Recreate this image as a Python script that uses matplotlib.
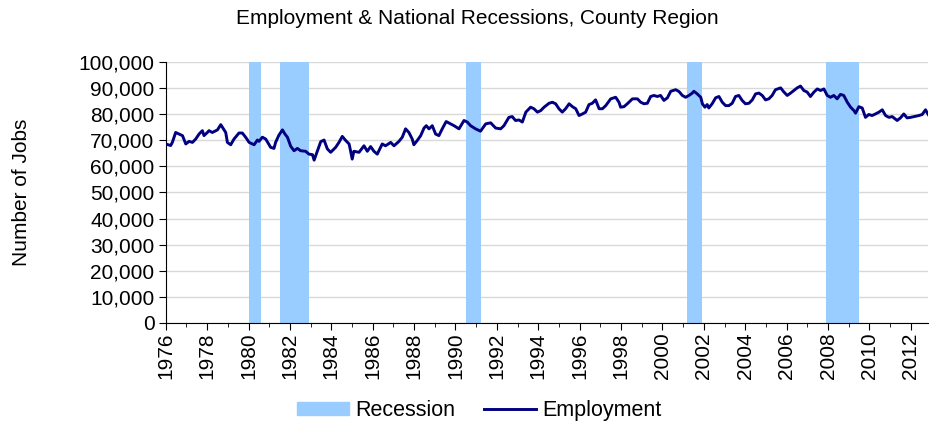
import numpy as np
import matplotlib.pyplot as plt
from matplotlib.patches import Patch
from matplotlib.lines import Line2D
from matplotlib.ticker import FuncFormatter, MultipleLocator

plt.rcParams['font.family'] = ['Liberation Sans', 'DejaVu Sans']

# Employment (decimal year, thousands of jobs)
years = [
    1976.00, 1976.24, 1976.32, 1976.48, 1976.64, 1976.81, 1976.97, 1977.13, 1977.29, 1977.45,
    1977.61, 1977.77, 1977.85, 1978.01, 1978.09, 1978.25, 1978.50, 1978.66, 1978.74, 1978.90,
    1978.98, 1979.14, 1979.30, 1979.54, 1979.70, 1979.86, 1980.03, 1980.27, 1980.43, 1980.51,
    1980.67, 1980.83, 1981.07, 1981.23, 1981.31, 1981.47, 1981.64, 1981.76, 1981.88, 1982.04,
    1982.20, 1982.36, 1982.52, 1982.76, 1982.92, 1983.09, 1983.17, 1983.33, 1983.49, 1983.65,
    1983.81, 1983.97, 1984.21, 1984.37, 1984.53, 1984.70, 1984.86, 1984.93, 1985.01, 1985.09,
    1985.34, 1985.58, 1985.74, 1985.90, 1986.06, 1986.22, 1986.46, 1986.62, 1986.87, 1987.03,
    1987.27, 1987.43, 1987.59, 1987.75, 1987.91, 1987.99, 1988.15, 1988.32, 1988.48, 1988.59,
    1988.72, 1988.88, 1989.04, 1989.20, 1989.36, 1989.55, 1989.76, 1989.93, 1990.17, 1990.41,
    1990.57, 1990.73, 1990.97, 1991.21, 1991.46, 1991.70, 1991.94, 1992.18, 1992.34, 1992.58,
    1992.74, 1992.90, 1993.07, 1993.23, 1993.40, 1993.63, 1993.79, 1993.96, 1994.12, 1994.28,
    1994.52, 1994.68, 1994.84, 1995.00, 1995.16, 1995.32, 1995.49, 1995.65, 1995.81, 1995.97,
    1996.13, 1996.29, 1996.45, 1996.61, 1996.77, 1996.94, 1997.10, 1997.26, 1997.50, 1997.74,
    1997.90, 1997.98, 1998.14, 1998.30, 1998.55, 1998.79, 1998.95, 1999.11, 1999.27, 1999.43,
    1999.59, 1999.75, 1999.91, 2000.07, 2000.24, 2000.40, 2000.64, 2000.80, 2000.96, 2001.12,
    2001.28, 2001.44, 2001.52, 2001.68, 2001.85, 2001.93, 2002.05, 2002.16, 2002.24, 2002.40,
    2002.57, 2002.73, 2002.89, 2003.05, 2003.21, 2003.37, 2003.53, 2003.69, 2003.85, 2004.01,
    2004.18, 2004.34, 2004.50, 2004.66, 2004.82, 2004.98, 2005.14, 2005.30, 2005.46, 2005.71,
    2005.87, 2006.03, 2006.19, 2006.35, 2006.51, 2006.67, 2006.83, 2006.99, 2007.15, 2007.32,
    2007.48, 2007.64, 2007.80, 2007.96, 2008.12, 2008.28, 2008.44, 2008.60, 2008.76, 2008.93,
    2009.09, 2009.25, 2009.33, 2009.49, 2009.65, 2009.81, 2009.97, 2010.13, 2010.29, 2010.46,
    2010.62, 2010.78, 2010.94, 2011.10, 2011.34, 2011.50, 2011.66, 2011.82, 2011.99, 2012.23,
    2012.39, 2012.55, 2012.71, 2012.84,
]
jobs_k = [
    68.6, 68.0, 69.2, 73.0, 72.4, 71.8, 68.6, 69.6, 69.2, 70.5,
    72.4, 73.7, 71.8, 73.0, 73.7, 73.0, 74.0, 76.0, 75.0, 73.0,
    69.2, 68.3, 70.5, 72.8, 72.8, 71.2, 69.2, 68.3, 70.1, 69.6,
    71.2, 70.5, 67.3, 66.9, 69.2, 72.0, 74.0, 72.4, 71.2, 67.7,
    66.0, 66.9, 66.0, 65.8, 64.7, 64.5, 62.4, 66.0, 69.5, 70.1,
    66.7, 65.4, 67.3, 69.2, 71.5, 69.9, 68.6, 66.0, 62.8, 65.8,
    65.4, 67.9, 65.8, 67.6, 65.8, 64.7, 68.6, 67.9, 69.2, 67.9,
    69.6, 71.2, 74.4, 73.0, 70.5, 68.3, 69.9, 71.8, 74.7, 75.6,
    74.4, 75.6, 72.4, 71.8, 74.4, 77.2, 76.3, 75.6, 74.4, 77.6,
    77.0, 75.6, 74.4, 73.5, 76.3, 76.7, 74.7, 74.4, 75.6, 78.8,
    79.1, 77.6, 77.8, 77.0, 80.8, 82.7, 82.1, 80.8, 81.4, 82.7,
    84.2, 84.6, 84.0, 82.1, 80.8, 82.1, 84.0, 82.9, 82.1, 79.5,
    80.1, 80.8, 83.7, 84.2, 85.5, 82.1, 82.1, 83.3, 85.9, 86.5,
    84.6, 82.7, 82.9, 84.0, 85.9, 85.9, 84.6, 84.0, 84.2, 86.8,
    87.2, 86.8, 87.2, 85.3, 86.3, 88.8, 89.4, 88.7, 87.2, 86.5,
    87.2, 88.1, 88.8, 87.8, 86.5, 84.0, 82.7, 83.7, 82.4, 84.0,
    86.3, 86.8, 84.6, 83.3, 83.3, 84.2, 86.8, 87.2, 85.3, 84.0,
    84.2, 85.5, 87.8, 88.1, 87.2, 85.5, 85.9, 87.2, 89.4, 90.1,
    88.5, 87.2, 88.1, 89.1, 90.1, 90.8, 89.1, 88.5, 86.8, 88.5,
    89.7, 89.1, 89.7, 87.2, 86.5, 87.2, 85.9, 87.6, 87.2, 84.6,
    82.7, 81.4, 80.4, 82.9, 82.4, 78.8, 79.9, 79.5, 80.1, 80.8,
    81.7, 79.5, 78.8, 79.1, 77.6, 78.6, 80.1, 78.6, 78.8, 79.2,
    79.5, 79.9, 81.7, 79.9,
]

# National recessions (start, end as decimal years)
rec_start = [1980.00, 1981.50, 1990.50, 2001.17, 2007.92]
rec_end = [1980.58, 1982.92, 1991.25, 2001.92, 2009.50]

jobs = np.array(jobs_k) * 1000

fig = plt.figure(figsize=(9.31, 4.34), dpi=100)
ax = fig.add_axes([0.178, 0.256, 0.819, 0.601])

for s, e in zip(rec_start, rec_end):
    ax.axvspan(s, e, color='#99ccff', lw=0, zorder=1)

ax.plot(years, jobs, color='#000080', lw=2.1, zorder=3)

ax.set_xlim(1976, years[-1])
ax.set_ylim(0, 100000)
ax.yaxis.set_major_locator(MultipleLocator(10000))
ax.yaxis.set_major_formatter(FuncFormatter(lambda v, p: f'{int(v):,}'))
ax.xaxis.set_major_locator(MultipleLocator(2))
ax.xaxis.set_minor_locator(MultipleLocator(1))
ax.xaxis.set_major_formatter(FuncFormatter(lambda v, p: f'{int(round(v))}'))
ax.grid(axis='y', color='#d9d9d9', lw=1, zorder=0)
ax.set_axisbelow(True)
for side in ['top', 'right']:
    ax.spines[side].set_visible(False)
ax.tick_params(axis='y', labelsize=15, length=5, pad=3)
ax.tick_params(axis='x', which='major', labelsize=15, rotation=90, length=5, pad=2)
ax.tick_params(axis='x', which='minor', length=3)

ax.set_ylabel('Number of Jobs', fontsize=15)
ax.yaxis.set_label_coords(-0.177, 0.5)
fig.text(0.513, 0.98, 'Employment & National Recessions, County Region',
         fontsize=15, ha='center', va='top')

handles = [Patch(color='#99ccff', label='Recession'),
           Line2D([], [], color='#000080', lw=2.1, label='Employment')]
fig.legend(handles=handles, loc='lower center', bbox_to_anchor=(0.515, -0.015), ncol=2,
           frameon=False, fontsize=15.5, handlelength=2.4, handleheight=0.55,
           handletextpad=0.3, columnspacing=1.35)

fig.savefig('out.png', dpi=100)
